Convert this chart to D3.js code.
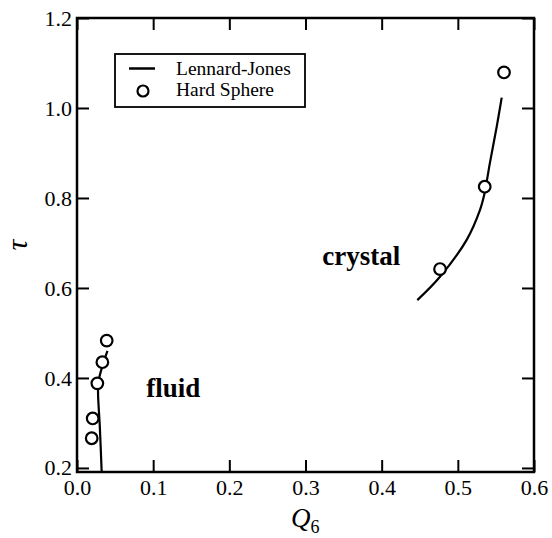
<!DOCTYPE html>
<html>
<head>
<meta charset="utf-8">
<script src="https://cdn.jsdelivr.net/npm/d3@7"></script>
<style>
  body { margin: 0; background: #fff; }
  text { font-family: "Liberation Serif", "Times New Roman", serif; fill: #000; }
</style>
</head>
<body>
<svg id="chart" width="552" height="538"></svg>
<script>
// ---- data ----
const xTicks = [0.0, 0.1, 0.2, 0.3, 0.4, 0.5, 0.6];
const yTicks = [0.2, 0.4, 0.6, 0.8, 1.0, 1.2];
const ljFluidQ6 = [0.0324, 0.0300, 0.0276, 0.0285, 0.0340, 0.0400];
const ljFluidTau = [0.191, 0.290, 0.370, 0.395, 0.430, 0.460];
const ljCrystalQ6 = [0.4468, 0.4766, 0.5116, 0.5290, 0.5350, 0.5420, 0.5510, 0.5576];
const ljCrystalTau = [0.573, 0.625, 0.707, 0.773, 0.810, 0.877, 0.958, 1.023];
const hsQ6 = [0.0390, 0.0333, 0.0267, 0.0206, 0.0193, 0.5606, 0.5353, 0.4766];
const hsTau = [0.483, 0.435, 0.388, 0.310, 0.266, 1.079, 0.825, 0.642];
const legendLabels = ["Lennard-Jones", "Hard Sphere"];
const regionLabels = ["crystal", "fluid"];
const regionQ6 = [0.322, 0.091];
const regionTau = [0.651, 0.357];

// ---- layout ----
const svg = d3.select("#chart");
const L = 77, R = 534, T = 18, B = 472;
const x = d3.scaleLinear().domain([0, 0.6]).range([L, R]);
const y = d3.scaleLinear().domain([0.191, 1.2]).range([B, T]);
const tickLen = 12;

// axes with inward ticks
const gx = svg.append("g").attr("transform", `translate(0,${B})`)
  .call(d3.axisBottom(x).tickValues(xTicks).tickFormat(d3.format(".1f")).tickSizeInner(-tickLen).tickSizeOuter(0).tickPadding(7));
const gxt = svg.append("g").attr("transform", `translate(0,${T})`)
  .call(d3.axisTop(x).tickValues(xTicks).tickFormat("").tickSizeInner(-tickLen).tickSizeOuter(0));
const gy = svg.append("g").attr("transform", `translate(${L},0)`)
  .call(d3.axisLeft(y).tickValues(yTicks).tickFormat(d3.format(".1f")).tickSizeInner(-tickLen).tickSizeOuter(0).tickPadding(5));
const gyr = svg.append("g").attr("transform", `translate(${R},0)`)
  .call(d3.axisRight(y).tickValues(yTicks).tickFormat("").tickSizeInner(-tickLen).tickSizeOuter(0));

[gx, gxt, gy, gyr].forEach(g => {
  g.select(".domain").remove();
  g.selectAll(".tick line").attr("stroke", "#000").attr("stroke-width", 2);
  g.selectAll(".tick text").style("font-family", '"Liberation Serif", serif').style("font-size", "22px").attr("fill", "#000");
});

// frame
svg.append("rect").attr("x", L).attr("y", T).attr("width", R - L).attr("height", B - T)
  .attr("fill", "none").attr("stroke", "#000").attr("stroke-width", 2.5);

// axis titles
const xt = svg.append("text").attr("x", 291).attr("y", 527).style("font-size", "27px");
xt.append("tspan").style("font-style", "italic").text("Q");
xt.append("tspan").attr("dy", 6).style("font-size", "18px").text("6");

svg.append("text").attr("transform", "translate(27,245) rotate(-90)")
  .attr("text-anchor", "middle").style("font-size", "30px").style("font-style", "italic").text("τ");

// curves
const line = d3.line().x(d => x(d[0])).y(d => y(d[1])).curve(d3.curveCatmullRom.alpha(0.5));
svg.append("path").datum(d3.zip(ljFluidQ6, ljFluidTau)).attr("d", line)
  .attr("fill", "none").attr("stroke", "#000").attr("stroke-width", 2.2);
svg.append("path").datum(d3.zip(ljCrystalQ6, ljCrystalTau)).attr("d", line)
  .attr("fill", "none").attr("stroke", "#000").attr("stroke-width", 2.2);

// hard sphere points
svg.append("g").selectAll("circle").data(d3.zip(hsQ6, hsTau)).join("circle")
  .attr("cx", d => x(d[0])).attr("cy", d => y(d[1])).attr("r", 5.8)
  .attr("fill", "#fff").attr("stroke", "#000").attr("stroke-width", 2.2);

// region labels
svg.append("g").selectAll("text").data(regionLabels).join("text")
  .attr("x", (d, i) => x(regionQ6[i])).attr("y", (d, i) => y(regionTau[i]))
  .style("font-size", "27px").style("font-weight", "bold").text(d => d);

// legend
const lg = svg.append("g");
lg.append("rect").attr("x", 115).attr("y", 54).attr("width", 190).attr("height", 53)
  .attr("fill", "#fff").attr("stroke", "#000").attr("stroke-width", 1.8);
lg.append("line").attr("x1", 129).attr("x2", 155).attr("y1", 68.5).attr("y2", 68.5)
  .attr("stroke", "#000").attr("stroke-width", 2.5);
lg.append("circle").attr("cx", 143).attr("cy", 91).attr("r", 5.5)
  .attr("fill", "#fff").attr("stroke", "#000").attr("stroke-width", 2.2);
lg.selectAll("text.lab").data(legendLabels).join("text").attr("class", "lab")
  .attr("x", 176).attr("y", (d, i) => 75 + i * 21).style("font-size", "19.5px").text(d => d);
</script>
</body>
</html>
